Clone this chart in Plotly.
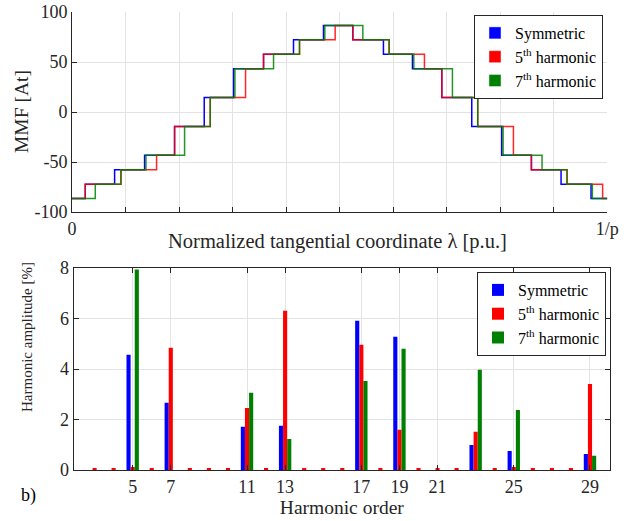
import plotly.graph_objects as go

# ---------------- data: MMF step waveform (top) ----------------
mmf_levels = [-86.6, -72.2, -57.7, -43.3, -14.4, 14.4, 43.3, 57.7, 72.2, 86.6,
              72.2, 57.7, 43.3, 14.4, -14.4, -43.3, -57.7, -72.2, -86.6]
sym_steps = [0.0248, 0.0796, 0.1356, 0.1916, 0.2470, 0.3018, 0.3578, 0.4138, 0.4698,
             0.5246, 0.5818, 0.6360, 0.6908, 0.7468, 0.8028, 0.8582, 0.9136, 0.9696]
h5_steps = [0.0248, 0.0914, 0.1580, 0.1916, 0.2582, 0.3242, 0.3578, 0.4250, 0.4916,
            0.5246, 0.5924, 0.6584, 0.6908, 0.7580, 0.8246, 0.8582, 0.9248, 0.9913]
h7_steps = [0.0435, 0.0914, 0.1381, 0.2103, 0.2582, 0.3043, 0.3765, 0.4250, 0.4723,
            0.5433, 0.5924, 0.6385, 0.7107, 0.7580, 0.8053, 0.8781, 0.9248, 0.9721]
x_start, x_end = 0.0, 1.0
mmf_tickvals = [-100, -50, 0, 50, 100]
mmf_ticktext = ["-100", "-50", "0", "50", "100"]

# ---------------- data: harmonic spectrum (bottom) ----------------
orders = list(range(2, 31))
amp_sym = [0, 0, 0, 4.56, 0, 2.66, 0, 0, 0, 1.71, 0, 1.75, 0, 0, 0, 5.91, 0, 5.28,
           0, 0, 0, 0.99, 0, 0.75, 0, 0, 0, 0.63, 0]
amp_h5 = [0, 0.04, 0.04, 0.12, 0.04, 4.84, 0.04, 0.04, 0.04, 2.46, 0.04, 6.31, 0.04, 0.04,
          0.04, 4.96, 0.04, 1.59, 0.04, 0.04, 0.04, 1.51, 0.04, 0.12, 0.04, 0.04, 0.04, 3.41, 0]
amp_h7 = [0, 0, 0, 7.94, 0, 0, 0, 0, 0, 3.06, 0, 1.23, 0, 0, 0, 3.53, 0, 4.80,
          0, 0, 0, 3.97, 0, 2.38, 0, 0, 0, 0.56, 0]
harm_ticks = [5, 7, 11, 13, 17, 19, 21, 25, 29]

series_names = ["Symmetric", "5<sup>th</sup> harmonic", "7<sup>th</sup> harmonic"]
colors = ["#0000ff", "#ff0000", "#008000"]
line_colors = ["rgba(0,0,255,1)", "rgba(255,0,0,0.85)", "rgba(0,128,0,0.85)"]

FONT = "Liberation Serif, Times New Roman, DejaVu Serif, serif"
AX = "#262626"
GRID = "#e3e3e3"

fig = go.Figure()

# top: step lines
for steps, name, lc in zip([sym_steps, h5_steps, h7_steps], series_names, line_colors):
    xs = [x_start] + steps + [x_end]
    ys = [mmf_levels[0]] + mmf_levels[1:] + [mmf_levels[-1]]
    fig.add_trace(go.Scatter(x=xs, y=ys, mode="lines", line=dict(color=lc, width=1.5, shape="hv"),
                             name=name, showlegend=False, xaxis="x", yaxis="y", hoverinfo="skip"))
# top legend entries (square patches)
for name, c in zip(series_names, colors):
    fig.add_trace(go.Bar(x=[None], y=[None], marker_color=c, name=name, legend="legend",
                         xaxis="x", yaxis="y", showlegend=True))

# bottom: bars
for vals, name, c in zip([amp_sym, amp_h5, amp_h7], series_names, colors):
    fig.add_trace(go.Bar(x=orders, y=vals, marker=dict(color=c, line=dict(width=0)), name=name,
                         legend="legend2", xaxis="x2", yaxis="y2"))

tick_font = dict(family=FONT, size=18, color="#262626")
title_font = dict(family=FONT, size=19.5, color="#262626")
legend_font = dict(family=FONT, size=16, color="#000000")
axis_common = dict(showline=True, linecolor=AX, linewidth=1, ticks="inside", ticklen=5,
                   tickcolor=AX, showgrid=True, gridcolor=GRID, gridwidth=1, zeroline=False,
                   tickfont=tick_font, automargin=False)

top_ticktext = ["0"] + [""] * 9 + ["1/p"]
top_tickvals = [i / 10 for i in range(11)]

L, T, W, H = 72, 12, 538, 458   # plot area in pixels


def px_x(px):
    return (px - L) / W


def px_y(py):
    return (T + H - py) / H


fig.update_layout(
    width=636, height=521,
    margin=dict(l=L, r=636 - L - W, t=T, b=521 - T - H),
    paper_bgcolor="white", plot_bgcolor="white",
    barmode="group", bargap=0.35, bargroupgap=0,
    font=dict(family=FONT, color="#262626"),
    xaxis=dict(domain=[0, 0.995], range=[0, 1], tickvals=top_tickvals, ticktext=top_ticktext,
               anchor="y", **axis_common),
    yaxis=dict(domain=[0.5633, 1], range=[-100, 100], tickvals=mmf_tickvals, ticktext=mmf_ticktext,
               anchor="x", **axis_common),
    xaxis2=dict(domain=[0.003, 1], range=[1.9, 30.05], tickvals=harm_ticks, anchor="y2",
                mirror="ticks", title=dict(text="Harmonic order", font=title_font, standoff=4),
                **axis_common),
    yaxis2=dict(domain=[0, 0.441], range=[0, 8], dtick=2, anchor="x2", mirror="ticks",
                **axis_common),
    legend=dict(x=px_x(603), y=px_y(15), xanchor="right", yanchor="top", bgcolor="white",
                bordercolor=AX, borderwidth=1, font=legend_font,
                itemwidth=30, tracegroupgap=0, traceorder="normal"),
    legend2=dict(x=px_x(606), y=px_y(272), xanchor="right", yanchor="top", bgcolor="white",
                 bordercolor=AX, borderwidth=1, font=legend_font,
                 itemwidth=30, tracegroupgap=0, traceorder="normal"),
    annotations=[
        dict(text="Normalized tangential coordinate λ [p.u.]", xref="paper", yref="paper",
             x=px_x(337), y=px_y(241), showarrow=False,
             font=dict(family=FONT, size=20.5, color="#262626"), xanchor="center", yanchor="middle"),
        dict(text="MMF [At]", xref="paper", yref="paper", x=px_x(22), y=px_y(112),
             textangle=-90, showarrow=False, font=title_font, xanchor="center", yanchor="middle"),
        dict(text="Harmonic amplitude [%]", xref="paper", yref="paper",
             x=px_x(27), y=px_y(337), textangle=-90, showarrow=False,
             font=dict(family=FONT, size=15, color="#262626"), xanchor="center", yanchor="middle"),
        dict(text="b)", xref="paper", yref="paper", x=px_x(28), y=px_y(495),
             showarrow=False, font=dict(family=FONT, size=18, color="#000"),
             xanchor="center", yanchor="middle"),
    ],
)

fig.write_html("out.html", config={"displayModeBar": False},
               post_script="document.body.style.margin='0px';document.body.style.padding='0px';")
